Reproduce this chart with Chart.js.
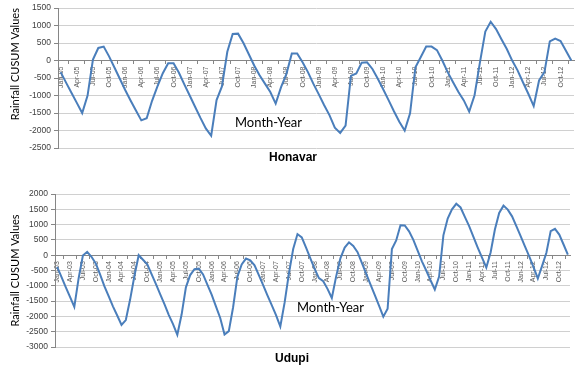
<!DOCTYPE html>
<html>
<head>
<meta charset="utf-8">
<script src="https://cdn.jsdelivr.net/npm/chart.js@4.4.1/dist/chart.umd.min.js"></script>
<style>
  body { margin: 0; background: #fff; }
  #wrap { position: relative; width: 577px; height: 369px; overflow: hidden; }
  canvas { position: absolute; left: 0; }
  .lbl { position: absolute; white-space: nowrap; line-height: 1; color: #000; }
  .axis-name { font-family: Lato, "Open Sans", sans-serif; font-size: 13px; }
  .station { font-family: "Liberation Sans", Arial, sans-serif; font-size: 12px; font-weight: bold; }
</style>
</head>
<body>
<div id="wrap">
  <canvas id="honavar" width="577" height="170" style="top:0"></canvas>
  <canvas id="udupi" width="577" height="194" style="top:175px"></canvas>
  <div class="lbl axis-name" style="left:235px;top:116px">Month-Year</div>
  <div class="lbl station" style="left:269px;top:151px">Honavar</div>
  <div class="lbl axis-name" style="left:297px;top:301px">Month-Year</div>
  <div class="lbl station" style="left:275px;top:352px">Udupi</div>
</div>
<script>
// month names and years for the category axes
const months = ["Jan", "Feb", "Mar", "Apr", "May", "Jun", "Jul", "Aug", "Sep", "Oct", "Nov", "Dec"];
const honavarYears = ["05", "06", "07", "08", "09", "10", "11", "12"];
const udupiYears = ["03", "04", "05", "06", "07", "08", "09", "10", "11", "12"];

// rainfall CUSUM values, one per month (Jan-05 .. Dec-12)
const honavarValues = [
  -330, -630, -920, -1210, -1500, -1000, 30, 360, 400, 120, -200, -520,
  -840, -1140, -1430, -1710, -1650, -1150, -740, -360, -75, -75, -350, -680,
  -1000, -1320, -1640, -1940, -2150, -1130, -740, 250, 760, 770, 500, 180,
  -140, -420, -660, -900, -1230, -760, -380, 200, 200, -50, -330, -660,
  -960, -1270, -1560, -1920, -2070, -1860, -440, -370, -60, -50, -240, -520,
  -820, -1130, -1450, -1750, -2000, -1510, -190, 100, 400, 400, 300, 0,
  -330, -620, -900, -1140, -1460, -990, -50, 830, 1110, 900, 610, 330,
  0, -280, -620, -950, -1300, -570, -330, 550, 630, 560, 280, 0
];

// rainfall CUSUM values, one per month (Jan-03 .. Dec-12)
const udupiValues = [
  -380, -710, -1040, -1360, -1690, -760, -10, 110, -50, -270, -630, -1010,
  -1340, -1670, -1970, -2280, -2120, -1450, -680, 0, -150, -300, -620, -940,
  -1270, -1600, -1950, -2250, -2600, -1940, -1050, -650, -460, -440, -630, -960,
  -1290, -1670, -2050, -2590, -2480, -1700, -700, -300, -110, -170, -330, -650,
  -980, -1310, -1630, -1960, -2330, -1550, -600, 200, 690, 580, 250, -100,
  -450, -750, -850, -1100, -1400, -700, -100, 250, 420, 300, 100, -250,
  -600, -950, -1300, -1650, -2010, -1750, 200, 480, 980, 970, 780, 500,
  150, -200, -500, -820, -1120, -700, 650, 1200, 1500, 1680, 1560, 1250,
  950, 600, 250, -80, -400, 90, 840, 1380, 1620, 1490, 1270, 950,
  620, 290, -40, -390, -760, -350, 80, 785, 860, 675, 350, 20
];

const honavarRange = [-2500, 1500];
const udupiRange = [-3000, 2000];

const honavarLabels = honavarYears.flatMap(y => months.map(m => m + "-" + y));
const udupiLabels = udupiYears.flatMap(y => months.map(m => m + "-" + y));

function cusumChart(id, labels, values, range, axisWidth, padding, titleAlign) {
    return new Chart(document.getElementById(id), {
        type: 'line',
        data: {
            labels: labels,
            datasets: [
                {
                    data: values,
                    borderColor: '#4A7EBB',
                    borderWidth: 2,
                    pointRadius: 0,
                    tension: 0,
                    fill: false,
                },
            ],
        },
        options: {
            responsive: false,
            animation: false,
            devicePixelRatio: 1,
            layout: { padding: padding },
            plugins: {
                legend: { display: false },
                tooltip: { enabled: false },
            },
            scales: {
                x: {
                    type: 'category',
                    position: { y: 0 },
                    offset: true,
                    grid: {
                        display: true,
                        drawOnChartArea: false,
                        drawTicks: true,
                        tickLength: 3,
                        offset: true,
                        tickColor: '#868686',
                    },
                    border: { display: true, color: '#868686', width: 1 },
                    ticks: {
                        autoSkip: false,
                        minRotation: 90,
                        maxRotation: 90,
                        padding: 3,
                        color: '#595959',
                        font: { family: 'Liberation Sans', size: 7 },
                        callback: function (v, i) {
                            return i % 3 === 0 ? this.getLabelForValue(v) : null;
                        },
                    },
                },
                y: {
                    min: range[0],
                    max: range[1],
                    ticks: {
                        stepSize: 500,
                        padding: 3,
                        color: '#404040',
                        font: { family: 'Liberation Sans', size: 8.5 },
                        callback: v => String(v),
                    },
                    grid: { color: '#d0d0d0', tickLength: 4, tickColor: '#868686' },
                    border: { color: '#868686' },
                    title: {
                        display: true,
                        text: 'Rainfall CUSUM Values',
                        align: titleAlign,
                        color: '#000',
                        font: { family: 'Lato', size: 11 },
                        padding: { top: 9, bottom: 0 },
                    },
                    afterFit: s => { s.width = axisWidth; },
                },
            },
        },
    });
}

cusumChart("honavar", honavarLabels, honavarValues, honavarRange, 58,
    { top: 7, bottom: 22, left: 0, right: 3 }, 'end');
cusumChart("udupi", udupiLabels, udupiValues, udupiRange, 55,
    { top: 19, bottom: 22, left: 0, right: 7 }, 'center');
</script>
</body>
</html>
